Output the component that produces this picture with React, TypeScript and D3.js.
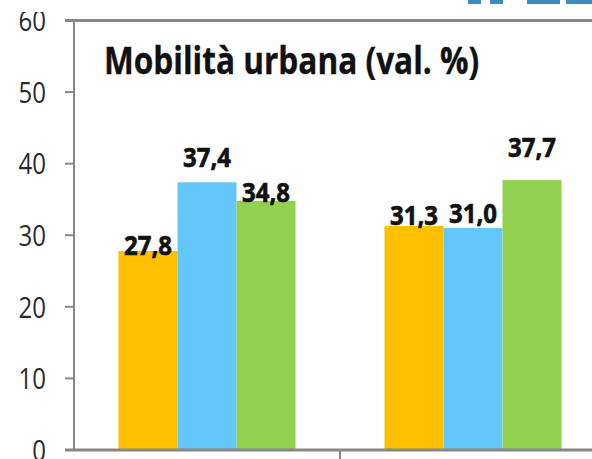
import React from "react";
import * as d3 from "d3";

const categories = ["Gruppo A", "Gruppo B"];
const seriesNames = ["Serie 1", "Serie 2", "Serie 3"];
const values: number[][] = [
  [27.8, 37.4, 34.8],
  [31.3, 31.0, 37.7],
];
const yTicks = [0, 10, 20, 30, 40, 50, 60];
const title = "Mobilità urbana (val. %)";

// layout-only: manual label lift above bar top (Excel-moved labels)
const labelLift: number[][] = [
  [-4, 15, -1],
  [1, 5, 23],
];

const colors = ["#FFC000", "#63C7FA", "#92D050"];

const W = 592;
const H = 459;
const axisX = 74;
const y0 = 450;
const yTop = 20.5;

export default function App() {
  const y = d3.scaleLinear().domain([0, 60]).range([y0, yTop]);
  const x0 = d3
    .scaleBand<string>()
    .domain(categories)
    .range([axisX, axisX + 532])
    .paddingInner(0)
    .paddingOuter(0);
  const x1 = d3
    .scaleBand<string>()
    .domain(seriesNames)
    .range([0, x0.bandwidth()])
    .paddingInner(0)
    .paddingOuter(0.754);
  const fmt = (v: number) => v.toFixed(1).replace(".", ",");
  const font = "'Open Sans', 'Liberation Sans', sans-serif";
  const gray = "#878787";

  return (
    <svg
      width={W}
      height={H}
      style={{ position: "absolute", left: 0, top: 0, background: "#fff" }}
      fontFamily={font}
    >
      <defs>
        <clipPath id="clipTop">
          <rect x={0} y={12} width={W} height={H} />
        </clipPath>
      </defs>
      <rect x={0} y={0} width={W} height={H} fill="#fff" />
      {/* logo fragment */}
      <g fill="#3F8DBE">
        <rect x={468} y={0} width={13} height={4} />
        <rect x={490} y={0} width={13} height={4} />
        <rect x={527} y={0} width={33} height={4} />
        <rect x={566} y={0} width={26} height={4} />
      </g>
      {/* bars */}
      {categories.map((c, ci) => (
        <g key={c} transform={`translate(${x0(c)},0)`}>
          {seriesNames.map((s, si) => {
            const v = values[ci][si];
            return (
              <rect
                key={s}
                x={x1(s)}
                y={y(v)}
                width={x1.bandwidth()}
                height={y(0) - y(v)}
                fill={colors[si]}
              />
            );
          })}
        </g>
      ))}
      {/* top line */}
      <line x1={65} x2={W} y1={y(60)} y2={y(60)} stroke={gray} strokeWidth={3} />
      {/* y axis */}
      <line x1={axisX} x2={axisX} y1={y(60)} y2={y(0)} stroke={gray} strokeWidth={2} />
      <g clipPath="url(#clipTop)">
        {yTicks.map((t) => (
          <g key={t}>
            <line x1={65} x2={axisX} y1={y(t)} y2={y(t)} stroke={gray} strokeWidth={2} />
            <g transform={`translate(46,${y(t)}) scale(1,1.25)`}>
              <text dy="0.36em" textAnchor="end" fontSize={24} fill="#2b2b2b">
                {t}
              </text>
            </g>
          </g>
        ))}
      </g>
      {/* x axis */}
      <line x1={65} x2={W} y1={y(0)} y2={y(0)} stroke={gray} strokeWidth={3} />
      {categories.slice(1).map((c) => (
        <line key={c} x1={x0(c)} x2={x0(c)} y1={y(0)} y2={H} stroke={gray} strokeWidth={2} />
      ))}
      {/* data labels */}
      {categories.map((c, ci) =>
        seriesNames.map((s, si) => {
          const v = values[ci][si];
          const cx = (x0(c) as number) + (x1(s) as number) + x1.bandwidth() / 2;
          return (
            <g key={c + s} transform={`translate(${cx},${y(v) - labelLift[ci][si]}) scale(1,1.08)`}>
              <text
                textAnchor="middle"
                fontSize={24}
                fontWeight={700}
                fill="#111"
                stroke="#111"
                strokeWidth={0.6}
              >
                {fmt(v)}
              </text>
            </g>
          );
        })
      )}
      {/* title */}
      <g transform="translate(104,74) scale(1,1.17)">
        <text fontSize={31.6} fontWeight={700} fill="#111" stroke="#111" strokeWidth={0.3}>
          {title}
        </text>
      </g>
    </svg>
  );
}
